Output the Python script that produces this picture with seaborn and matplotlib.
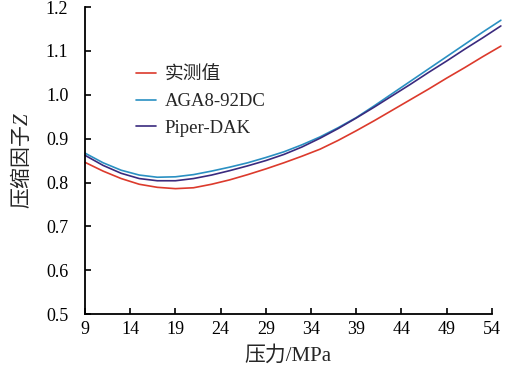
import matplotlib
matplotlib.use("Agg")
import matplotlib.pyplot as plt
import seaborn as sns
import pandas as pd

# 压力 (MPa)
pressure = [9, 11, 13, 15, 17, 19, 21, 23, 25, 27, 29, 31,
            33, 35, 37, 39, 41, 43, 45, 47, 49, 51, 53, 55]

# 压缩因子
z_measured = [0.846, 0.826, 0.809, 0.796, 0.789, 0.786, 0.788, 0.796,
              0.806, 0.818, 0.831, 0.845, 0.860, 0.876, 0.896, 0.918,
              0.941, 0.965, 0.989, 1.013, 1.038, 1.062, 1.087, 1.111]
z_aga8 = [0.867, 0.845, 0.828, 0.817, 0.812, 0.813, 0.818, 0.826,
          0.835, 0.845, 0.857, 0.870, 0.886, 0.904, 0.925, 0.948,
          0.975, 1.003, 1.031, 1.059, 1.087, 1.115, 1.143, 1.170]
z_piper = [0.862, 0.839, 0.821, 0.809, 0.804, 0.804, 0.809, 0.817,
           0.827, 0.838, 0.850, 0.864, 0.881, 0.901, 0.923, 0.947,
           0.972, 0.998, 1.024, 1.051, 1.077, 1.104, 1.130, 1.157]

series_names = ["实测值", "AGA8-92DC", "Piper-DAK"]
series_colors = ["#DC3A2C", "#2A90C2", "#3A2A7E"]

x_ticks = [9, 14, 19, 24, 29, 34, 39, 44, 49, 54]
y_ticks = [0.5, 0.6, 0.7, 0.8, 0.9, 1.0, 1.1, 1.2]

df = pd.DataFrame({
    "p": pressure * 3,
    "z": z_measured + z_aga8 + z_piper,
    "s": [series_names[0]] * len(pressure) + [series_names[1]] * len(pressure)
         + [series_names[2]] * len(pressure),
})

sns.set_style("ticks")
plt.rcParams["font.family"] = ["Liberation Serif", "Noto Sans CJK SC"]
plt.rcParams["mathtext.fontset"] = "custom"
plt.rcParams["mathtext.it"] = "Liberation Serif:italic"

fig = plt.figure(figsize=(5.06, 3.73), dpi=100)
ax = fig.add_axes([0.168, 0.158, 0.804, 0.823])

sns.lineplot(data=df, x="p", y="z", hue="s", hue_order=series_names,
             palette=series_colors, linewidth=1.2, ax=ax, clip_on=False)

ax.set_xlim(9, 54)
ax.set_ylim(0.5, 1.2)
ax.set_xticks(x_ticks)
ax.set_yticks(y_ticks)
ax.set_yticklabels([f"{v:.1f}" for v in y_ticks])
ax.tick_params(direction="in", length=4, width=1.2, labelsize=13, colors="black")
ax.tick_params(axis="y", pad=12)
ax.tick_params(axis="x", pad=5)
for side in ["top", "right"]:
    ax.spines[side].set_visible(False)
for side in ["left", "bottom"]:
    ax.spines[side].set_linewidth(1.3)
    ax.spines[side].set_color("black")

ax.set_xlabel("压力/MPa", fontsize=15, labelpad=6)
ax.set_ylabel(r"压缩因子$\mathit{Z}$", fontsize=15, labelpad=9,
              family="Noto Sans CJK SC")

leg = ax.legend(loc="upper left", bbox_to_anchor=(0.106, 0.83), frameon=False,
                fontsize=13.5, handlelength=1.1, handletextpad=0.45,
                labelspacing=0.5, borderaxespad=0)

fig.savefig("out.png", dpi=100)
